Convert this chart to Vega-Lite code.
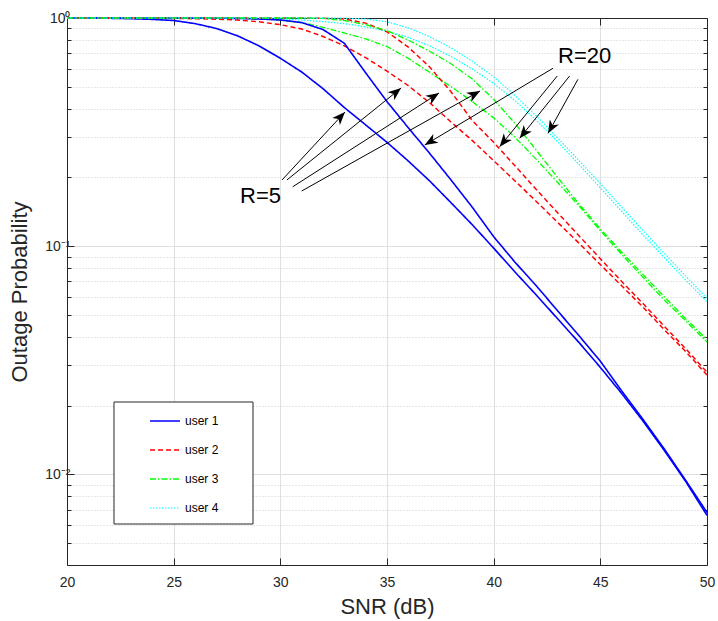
{
  "$schema": "https://vega.github.io/schema/vega-lite/v6.json",
  "width": 640,
  "height": 547,
  "autosize": "none",
  "padding": {"left": 67, "top": 18, "right": 11, "bottom": 56},
  "background": "white",
  "config": {
    "font": "Liberation Sans",
    "view": {"stroke": null},
    "axis": {
      "labelFont": "Liberation Sans",
      "titleFont": "Liberation Sans",
      "labelColor": "#262626",
      "titleColor": "#262626",
      "domainColor": "#262626",
      "tickColor": "#262626",
      "titleFontWeight": "normal",
      "labelFontSize": 14,
      "titleFontSize": 22,
      "gridColor": "#dfdfdf",
      "labelOverlap": false,
      "labelFlush": false
    },
    "legend": {
      "orient": "none",
      "legendX": 47,
      "legendY": 384,
      "padding": 3,
      "symbolOffset": 32,
      "labelOffset": 4,
      "symbolType": "stroke",
      "symbolSize": 900,
      "symbolStrokeWidth": 1.5,
      "rowPadding": 7,
      "labelFontSize": 12,
      "labelFont": "Liberation Sans",
      "labelColor": "#000000"
    }
  },
  "datasets": {
    "r5": [
      {"snr": 20, "user 1": 1, "user 2": 1, "user 3": 1, "user 4": 1},
      {"snr": 21, "user 1": 0.999, "user 2": 1, "user 3": 1, "user 4": 1},
      {"snr": 22, "user 1": 0.997, "user 2": 0.9995, "user 3": 1, "user 4": 1},
      {"snr": 23, "user 1": 0.993, "user 2": 0.999, "user 3": 1, "user 4": 1},
      {"snr": 24, "user 1": 0.986, "user 2": 0.998, "user 3": 0.9995, "user 4": 1},
      {"snr": 25, "user 1": 0.975, "user 2": 0.996, "user 3": 0.999, "user 4": 1},
      {"snr": 26, "user 1": 0.945, "user 2": 0.993, "user 3": 0.9985, "user 4": 0.9995},
      {"snr": 27, "user 1": 0.9, "user 2": 0.988, "user 3": 0.998, "user 4": 0.999},
      {"snr": 28, "user 1": 0.835, "user 2": 0.98, "user 3": 0.996, "user 4": 0.998},
      {"snr": 29, "user 1": 0.755, "user 2": 0.962, "user 3": 0.99, "user 4": 0.995},
      {"snr": 30, "user 1": 0.666, "user 2": 0.935, "user 3": 0.98, "user 4": 0.99},
      {"snr": 31, "user 1": 0.58, "user 2": 0.895, "user 3": 0.955, "user 4": 0.98},
      {"snr": 32, "user 1": 0.49, "user 2": 0.83, "user 3": 0.91, "user 4": 0.965},
      {"snr": 33, "user 1": 0.405, "user 2": 0.755, "user 3": 0.86, "user 4": 0.945},
      {"snr": 34, "user 1": 0.34, "user 2": 0.67, "user 3": 0.81, "user 4": 0.915},
      {"snr": 35, "user 1": 0.285, "user 2": 0.585, "user 3": 0.75, "user 4": 0.875},
      {"snr": 36, "user 1": 0.236, "user 2": 0.505, "user 3": 0.665, "user 4": 0.822},
      {"snr": 37, "user 1": 0.193, "user 2": 0.425, "user 3": 0.578, "user 4": 0.755},
      {"snr": 38, "user 1": 0.155, "user 2": 0.35, "user 3": 0.5, "user 4": 0.678},
      {"snr": 39, "user 1": 0.124, "user 2": 0.29, "user 3": 0.43, "user 4": 0.598},
      {"snr": 40, "user 1": 0.098, "user 2": 0.237, "user 3": 0.365, "user 4": 0.517},
      {"snr": 41, "user 1": 0.077, "user 2": 0.193, "user 3": 0.3, "user 4": 0.434},
      {"snr": 42, "user 1": 0.061, "user 2": 0.157, "user 3": 0.24, "user 4": 0.356},
      {"snr": 43, "user 1": 0.048, "user 2": 0.127, "user 3": 0.19, "user 4": 0.287},
      {"snr": 44, "user 1": 0.0378, "user 2": 0.103, "user 3": 0.15, "user 4": 0.228},
      {"snr": 45, "user 1": 0.0294, "user 2": 0.083, "user 3": 0.117, "user 4": 0.18},
      {"snr": 46, "user 1": 0.0226, "user 2": 0.067, "user 3": 0.092, "user 4": 0.142},
      {"snr": 47, "user 1": 0.0171, "user 2": 0.054, "user 3": 0.073, "user 4": 0.112},
      {"snr": 48, "user 1": 0.0127, "user 2": 0.043, "user 3": 0.058, "user 4": 0.089},
      {"snr": 49, "user 1": 0.0093, "user 2": 0.0345, "user 3": 0.047, "user 4": 0.071},
      {"snr": 50, "user 1": 0.0066, "user 2": 0.0272, "user 3": 0.038, "user 4": 0.057}
    ],
    "r20": [
      {"snr": 20, "user 1": 1, "user 2": 1, "user 3": 1, "user 4": 1},
      {"snr": 21, "user 1": 1, "user 2": 1, "user 3": 1, "user 4": 1},
      {"snr": 22, "user 1": 1, "user 2": 1, "user 3": 1, "user 4": 1},
      {"snr": 23, "user 1": 1, "user 2": 1, "user 3": 1, "user 4": 1},
      {"snr": 24, "user 1": 1, "user 2": 1, "user 3": 1, "user 4": 1},
      {"snr": 25, "user 1": 0.9995, "user 2": 1, "user 3": 1, "user 4": 1},
      {"snr": 26, "user 1": 0.999, "user 2": 1, "user 3": 1, "user 4": 1},
      {"snr": 27, "user 1": 0.998, "user 2": 1, "user 3": 1, "user 4": 1},
      {"snr": 28, "user 1": 0.996, "user 2": 1, "user 3": 1, "user 4": 1},
      {"snr": 29, "user 1": 0.99, "user 2": 1, "user 3": 1, "user 4": 1},
      {"snr": 30, "user 1": 0.98, "user 2": 0.9995, "user 3": 1, "user 4": 1},
      {"snr": 31, "user 1": 0.955, "user 2": 0.999, "user 3": 0.9995, "user 4": 1},
      {"snr": 32, "user 1": 0.89, "user 2": 0.997, "user 3": 0.996, "user 4": 0.9995},
      {"snr": 33, "user 1": 0.775, "user 2": 0.99, "user 3": 0.975, "user 4": 0.998},
      {"snr": 34, "user 1": 0.575, "user 2": 0.95, "user 3": 0.935, "user 4": 0.99},
      {"snr": 35, "user 1": 0.43, "user 2": 0.87, "user 3": 0.88, "user 4": 0.962},
      {"snr": 36, "user 1": 0.33, "user 2": 0.745, "user 3": 0.8, "user 4": 0.905},
      {"snr": 37, "user 1": 0.255, "user 2": 0.61, "user 3": 0.715, "user 4": 0.828},
      {"snr": 38, "user 1": 0.195, "user 2": 0.475, "user 3": 0.63, "user 4": 0.74},
      {"snr": 39, "user 1": 0.148, "user 2": 0.355, "user 3": 0.54, "user 4": 0.647},
      {"snr": 40, "user 1": 0.11, "user 2": 0.285, "user 3": 0.44, "user 4": 0.552},
      {"snr": 41, "user 1": 0.085, "user 2": 0.225, "user 3": 0.345, "user 4": 0.458},
      {"snr": 42, "user 1": 0.067, "user 2": 0.177, "user 3": 0.263, "user 4": 0.372},
      {"snr": 43, "user 1": 0.052, "user 2": 0.14, "user 3": 0.2, "user 4": 0.298},
      {"snr": 44, "user 1": 0.0405, "user 2": 0.111, "user 3": 0.153, "user 4": 0.237},
      {"snr": 45, "user 1": 0.0313, "user 2": 0.088, "user 3": 0.119, "user 4": 0.188},
      {"snr": 46, "user 1": 0.0232, "user 2": 0.07, "user 3": 0.094, "user 4": 0.148},
      {"snr": 47, "user 1": 0.0174, "user 2": 0.056, "user 3": 0.075, "user 4": 0.117},
      {"snr": 48, "user 1": 0.0129, "user 2": 0.0445, "user 3": 0.06, "user 4": 0.093},
      {"snr": 49, "user 1": 0.0094, "user 2": 0.0355, "user 3": 0.048, "user 4": 0.074},
      {"snr": 50, "user 1": 0.0068, "user 2": 0.028, "user 3": 0.039, "user 4": 0.059}
    ],
    "arrows": [
      {"x1": 30.08, "y1": 0.195, "x2": 33.03, "y2": 0.387},
      {"x1": 30.31, "y1": 0.195, "x2": 35.66, "y2": 0.493},
      {"x1": 30.58, "y1": 0.182, "x2": 37.44, "y2": 0.469},
      {"x1": 31.0, "y1": 0.1744, "x2": 39.36, "y2": 0.4786},
      {"x1": 42.78, "y1": 0.602, "x2": 36.77, "y2": 0.2774},
      {"x1": 42.98, "y1": 0.5568, "x2": 40.28, "y2": 0.2728},
      {"x1": 43.56, "y1": 0.5568, "x2": 41.22, "y2": 0.297},
      {"x1": 43.95, "y1": 0.5385, "x2": 42.55, "y2": 0.3122}
    ],
    "labels": [
      {"x": 28.11, "y": 0.1545, "t": "R=5"},
      {"x": 43.02, "y": 0.635, "t": "R=20"}
    ],
    "box": [
      {"x1": 22.203, "x2": 28.719, "y1": 0.00605, "y2": 0.02073}
    ]
  },
  "layer": [
    {
      "data": {"name": "r5"},
      "transform": [{"fold": ["user 1", "user 2", "user 3", "user 4"], "as": ["user", "p"]}],
      "mark": {"type": "line", "clip": false},
      "encoding": {
        "x": {
          "field": "snr", "type": "quantitative",
          "scale": {"domain": [20, 50], "nice": false, "zero": false},
          "axis": {
            "values": [20, 25, 30, 35, 40, 45, 50],
            "grid": true,
            "tickSize": -7,
            "labelPadding": 17,
            "title": "SNR (dB)",
            "titleX": 320,
            "titleY": 48,
            "titleBaseline": "alphabetic",
            "titleAlign": "center"
          }
        },
        "y": {
          "field": "p", "type": "quantitative",
          "scale": {"type": "log", "domain": [0.004, 1], "nice": false},
          "axis": {
            "values": [0.005, 0.006, 0.007, 0.008, 0.009, 0.01, 0.02, 0.03, 0.04, 0.05, 0.06, 0.07, 0.08, 0.09, 0.1, 0.2, 0.3, 0.4, 0.5, 0.6, 0.7, 0.8, 0.9, 1],
            "grid": true,
            "gridDash": {"condition": {"test": "abs(log(datum.value)/LN10 - round(log(datum.value)/LN10)) < 0.001", "value": []}, "value": [1, 2]},
            "gridColor": {"condition": {"test": "abs(log(datum.value)/LN10 - round(log(datum.value)/LN10)) < 0.001", "value": "#dfdfdf"}, "value": "#cfcfcf"},
            "tickSize": {"condition": {"test": "abs(log(datum.value)/LN10 - round(log(datum.value)/LN10)) < 0.001", "value": -7}, "value": -4},
            "labelExpr": "datum.value == 1 ? '10⁰' : (datum.value == 0.1 ? '10⁻¹' : (datum.value == 0.01 ? '10⁻²' : ''))",
            "labelPadding": 4,
            "labelBaseline": "middle",
            "title": "Outage Probability",
            "titleX": -41,
            "titleY": 273.5,
            "titleAngle": -90,
            "titleAlign": "center",
            "titleBaseline": "alphabetic"
          }
        },
        "color": {
          "field": "user", "type": "nominal",
          "scale": {"domain": ["user 1", "user 2", "user 3", "user 4"], "range": ["#0000ff", "#ff0000", "#00ff00", "#00ffff"]},
          "legend": {"title": null}
        },
        "strokeDash": {
          "field": "user", "type": "nominal",
          "scale": {"domain": ["user 1", "user 2", "user 3", "user 4"], "range": [[1, 0], [5, 3], [6, 2, 1.5, 2], [1.5, 1.5]]},
          "legend": {"title": null}
        },
        "strokeWidth": {
          "field": "user", "type": "ordinal",
          "scale": {"domain": ["user 1", "user 2", "user 3", "user 4"], "range": [1.6, 1.2, 1.2, 1.2]},
          "legend": null
        }
      }
    },
    {
      "data": {"name": "r20"},
      "transform": [{"fold": ["user 1", "user 2", "user 3", "user 4"], "as": ["user", "p"]}],
      "mark": {"type": "line", "clip": false},
      "encoding": {
        "x": {
          "field": "snr", "type": "quantitative",
          "scale": {"domain": [20, 50], "nice": false, "zero": false},
          "axis": {"orient": "top", "values": [20, 25, 30, 35, 40, 45, 50], "labels": false, "grid": false, "tickSize": -7, "title": null}
        },
        "y": {
          "field": "p", "type": "quantitative",
          "scale": {"type": "log", "domain": [0.004, 1], "nice": false},
          "axis": {
            "orient": "right",
            "values": [0.005, 0.006, 0.007, 0.008, 0.009, 0.01, 0.02, 0.03, 0.04, 0.05, 0.06, 0.07, 0.08, 0.09, 0.1, 0.2, 0.3, 0.4, 0.5, 0.6, 0.7, 0.8, 0.9, 1],
            "labels": false, "grid": false, "title": null,
            "tickSize": {"condition": {"test": "abs(log(datum.value)/LN10 - round(log(datum.value)/LN10)) < 0.001", "value": -7}, "value": -4}
          }
        },
        "color": {"field": "user", "type": "nominal", "legend": {"title": null}},
        "strokeDash": {"field": "user", "type": "nominal", "legend": {"title": null}},
        "strokeWidth": {"field": "user", "type": "ordinal", "legend": null}
      }
    },
    {
      "data": {"name": "box"},
      "mark": {"type": "rect", "fill": "white", "stroke": "#262626", "strokeWidth": 1},
      "encoding": {
        "x": {"field": "x1", "type": "quantitative", "scale": {"domain": [20, 50], "nice": false, "zero": false}, "axis": null},
        "x2": {"field": "x2"},
        "y": {"field": "y1", "type": "quantitative", "scale": {"type": "log", "domain": [0.004, 1], "nice": false}, "axis": null},
        "y2": {"field": "y2"}
      }
    },
    {
      "data": {"name": "arrows"},
      "mark": {"type": "rule", "color": "#000000", "strokeWidth": 1},
      "encoding": {
        "x": {"field": "x1", "type": "quantitative", "scale": {"domain": [20, 50], "nice": false, "zero": false}, "axis": null},
        "y": {"field": "y1", "type": "quantitative", "scale": {"type": "log", "domain": [0.004, 1], "nice": false}, "axis": null},
        "x2": {"field": "x2"},
        "y2": {"field": "y2"}
      }
    },
    {
      "data": {"name": "arrows"},
      "transform": [
        {"calculate": "atan2((datum.x2 - datum.x1) * 640 / 30, (log(datum.y2) - log(datum.y1)) / LN10 * 228.1) * 180 / PI", "as": "ang"}
      ],
      "mark": {"type": "point", "shape": "M0,0L0.4,1L0,0.72L-0.4,1Z", "filled": true, "color": "#000000", "opacity": 1, "size": 676, "strokeWidth": 0},
      "encoding": {
        "x": {"field": "x2", "type": "quantitative", "scale": {"domain": [20, 50], "nice": false, "zero": false}, "axis": null},
        "y": {"field": "y2", "type": "quantitative", "scale": {"type": "log", "domain": [0.004, 1], "nice": false}, "axis": null},
        "angle": {"field": "ang", "type": "quantitative", "scale": null}
      }
    },
    {
      "data": {"name": "labels"},
      "mark": {"type": "text", "align": "left", "baseline": "alphabetic", "fontSize": 22, "font": "Liberation Sans", "color": "#000000"},
      "encoding": {
        "x": {"field": "x", "type": "quantitative", "scale": {"domain": [20, 50], "nice": false, "zero": false}, "axis": null},
        "y": {"field": "y", "type": "quantitative", "scale": {"type": "log", "domain": [0.004, 1], "nice": false}, "axis": null},
        "text": {"field": "t"}
      }
    }
  ],
  "resolve": {"axis": {"x": "independent", "y": "independent"}}
}
